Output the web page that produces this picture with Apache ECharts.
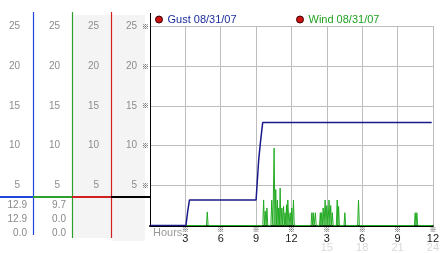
<!DOCTYPE html>
<html><head><meta charset="utf-8">
<script src="https://cdn.jsdelivr.net/npm/echarts@6/dist/echarts.min.js"></script>
<style>html,body{margin:0;padding:0;background:#fff}#c{width:442px;height:253px}</style>
</head><body><div id="c"></div>
<script>
// ---- data ----
const gustName = 'Gust 08/31/07';
const windName = 'Wind 08/31/07';
const gustHours  = [0, 3.05, 3.2, 3.35, 9.0, 9.22, 9.36, 9.56, 23.9];
const gustSpeeds = [0, 0,    1.8, 3.2,  3.2, 8.2,  10.3, 12.9, 12.9];
const windHours = [0,4.79,4.86,4.93,
  9.57,9.64,9.71,9.78,9.85,9.92,9.99,
  10.26,10.33,10.43,10.53,10.6,10.67,10.74,10.81,10.86,10.92,10.98,11.04,11.11,11.19,11.26,11.33,11.4,11.46,11.52,11.58,11.63,11.69,11.79,11.89,11.96,12.03,12.1,12.17,12.24,
  13.66,13.73,13.79,13.85,13.92,13.96,14.03,14.1,
  14.38,14.45,14.5,14.55,14.62,14.69,14.77,14.86,14.93,15.0,15.1,15.19,15.26,15.33,15.4,15.47,15.54,
  15.81,15.88,15.94,16.0,16.07,
  16.46,16.53,16.6,
  17.62,17.69,17.76,
  22.43,22.5,22.57,22.64,22.71,24];
const windSpeeds = [0,0,1.7,0,
  0,3.2,0,1.8,0,2.2,0,
  0,3.2,0,9.7,0,4.5,0,3.2,0,2.2,0,4.7,0,2.2,0,2.4,0,1.6,0,2.6,0,3.2,0,1.6,0,2.2,0,3.2,0,
  0,1.6,0,1.6,0,0,1.6,0,
  0,1.6,0,1.6,0,2.2,0,3.2,0,2.5,0,3.2,0,2.5,0,1.6,0,
  0,3.2,0,2.4,0,
  0,1.6,0,
  0,3.2,0,
  0,1.6,0,1.6,0,0];
const hourLabels = ['', '3', '6', '9', '12', '3', '6', '9', '12'];
const hourSubLabels = ['', '', '', '', '', '15', '18', '21', '24'];
const yTickLabels = ['', '5', '10', '15', '20', '25'];
const gustStats = ['12.9', '12.9', '0.0'];
const windStats = ['9.7', '0.0', '0.0'];

// ---- chart ----
const FF = 'Liberation Sans';
const MARK_FF = 'Noto Sans CJK JP';
const chart = echarts.init(document.getElementById('c'), null, {renderer: 'canvas'});
const zip = (a, b) => a.map((v, i) => [v, b[i]]);
const yLab = (i) => yTickLabels[i] || '';

function labelAxis(offset) {
  return {
    type: 'value', min: 0, max: 25, interval: 5, position: 'left', offset: offset,
    axisLine: {show: false}, axisTick: {show: false}, splitLine: {show: false},
    axisLabel: {margin: 0, color: '#8c8c8c', fontSize: 10, fontFamily: FF,
      formatter: (v) => yLab(Math.round(v / 5))}
  };
}

const statTexts = [];
[gustStats, windStats].forEach((arr, c) => {
  arr.forEach((s, r) => {
    statTexts.push({type: 'text', right: c === 0 ? 442 - 27 : 442 - 66, top: 200 + r * 14.3,
      style: {text: s, fill: '#888', font: '10px ' + FF, textAlign: 'right'}});
  });
});

chart.setOption({
  animation: false,
  grid: {left: 150, right: 3, top: 26, bottom: 27, containLabel: false},
  legend: [
    {left: 155, top: 14, padding: 0, icon: 'circle', itemWidth: 7, itemHeight: 7,
     selectedMode: false,
     itemStyle: {color: '#cc1111', borderColor: '#3a0000', borderWidth: 1},
     data: [{name: gustName, textStyle: {color: '#1b2c9a'}}],
     textStyle: {fontSize: 11, fontFamily: FF}},
    {left: 296, top: 14, padding: 0, icon: 'circle', itemWidth: 7, itemHeight: 7,
     selectedMode: false,
     itemStyle: {color: '#cc1111', borderColor: '#3a0000', borderWidth: 1},
     data: [{name: windName, textStyle: {color: '#22a022'}}],
     textStyle: {fontSize: 11, fontFamily: FF}}
  ],
  xAxis: {
    type: 'value', min: 0, max: 24, interval: 3,
    axisLine: {show: true, onZero: false, lineStyle: {color: '#000', width: 2}},
    axisTick: {show: false},
    splitLine: {show: true, lineStyle: {color: '#bdbdbd', width: 1}},
    axisLabel: {
      margin: 0, fontFamily: FF, showMaxLabel: true, showMinLabel: true,
      formatter: (v) => {
        const i = Math.round(v / 3);
        if (!hourLabels[i]) return '';
        let s = '{m|※}\n{n|' + hourLabels[i] + '}';
        if (hourSubLabels[i]) s += '\n{g|' + hourSubLabels[i] + '}';
        return s;
      },
      rich: {
        m: {fontSize: 7, lineHeight: 8, color: '#333', fontFamily: MARK_FF},
        n: {fontSize: 11, lineHeight: 10, color: '#222', fontFamily: FF},
        g: {fontSize: 11, lineHeight: 8, color: '#d8d8d8', fontFamily: FF}
      }
    }
  },
  yAxis: [
    {type: 'value', min: 0, max: 25, interval: 5, position: 'left',
     axisLine: {show: true, onZero: false, lineStyle: {color: '#000', width: 1}},
     axisTick: {show: false},
     splitLine: {show: true, lineStyle: {color: '#bdbdbd', width: 1}},
     axisLabel: {margin: 1, color: '#333', fontSize: 7, fontFamily: MARK_FF,
       formatter: (v) => v === 0 ? '' : '※'}},
    labelAxis(13), labelAxis(51), labelAxis(90), labelAxis(130)
  ],
  series: [
    {name: windName, type: 'line', data: zip(windHours, windSpeeds), symbol: 'none',
     lineStyle: {color: '#22aa22', width: 1}, itemStyle: {color: '#22aa22'}, z: 3},
    {name: gustName, type: 'line', data: zip(gustHours, gustSpeeds), symbol: 'none',
     lineStyle: {color: '#1a1a8c', width: 1.5}, itemStyle: {color: '#1a1a8c'}, z: 4}
  ],
  graphic: [
    {type: 'rect', shape: {x: 73, y: 15, width: 38, height: 223}, style: {fill: '#f4f4f4'}, z: -10},
    {type: 'rect', shape: {x: 112, y: 15, width: 33, height: 226}, style: {fill: '#f4f4f4'}, z: -10},
    {type: 'line', shape: {x1: 33.5, y1: 12, x2: 33.5, y2: 235}, style: {stroke: '#1f46d8', lineWidth: 1.2}, z: 5},
    {type: 'line', shape: {x1: 72.5, y1: 12, x2: 72.5, y2: 238}, style: {stroke: '#2ea02e', lineWidth: 1.2}, z: 5},
    {type: 'line', shape: {x1: 111.5, y1: 12, x2: 111.5, y2: 238}, style: {stroke: '#d02020', lineWidth: 1.2}, z: 5},
    {type: 'line', shape: {x1: 0, y1: 197, x2: 33, y2: 197}, style: {stroke: '#1f46d8', lineWidth: 2}, z: 6},
    {type: 'line', shape: {x1: 33, y1: 197, x2: 72, y2: 197}, style: {stroke: '#2ea02e', lineWidth: 2}, z: 6},
    {type: 'line', shape: {x1: 72, y1: 197, x2: 111, y2: 197}, style: {stroke: '#d02020', lineWidth: 2}, z: 6},
    {type: 'line', shape: {x1: 111, y1: 197, x2: 150, y2: 197}, style: {stroke: '#000', lineWidth: 2}, z: 6},
    {type: 'line', shape: {x1: 150.5, y1: 13, x2: 150.5, y2: 26}, style: {stroke: '#000', lineWidth: 1}},
    {type: 'text', left: 153, top: 227, style: {text: 'Hours', fill: '#999', font: '11px ' + FF}}
  ].concat(statTexts)
});
</script></body></html>
